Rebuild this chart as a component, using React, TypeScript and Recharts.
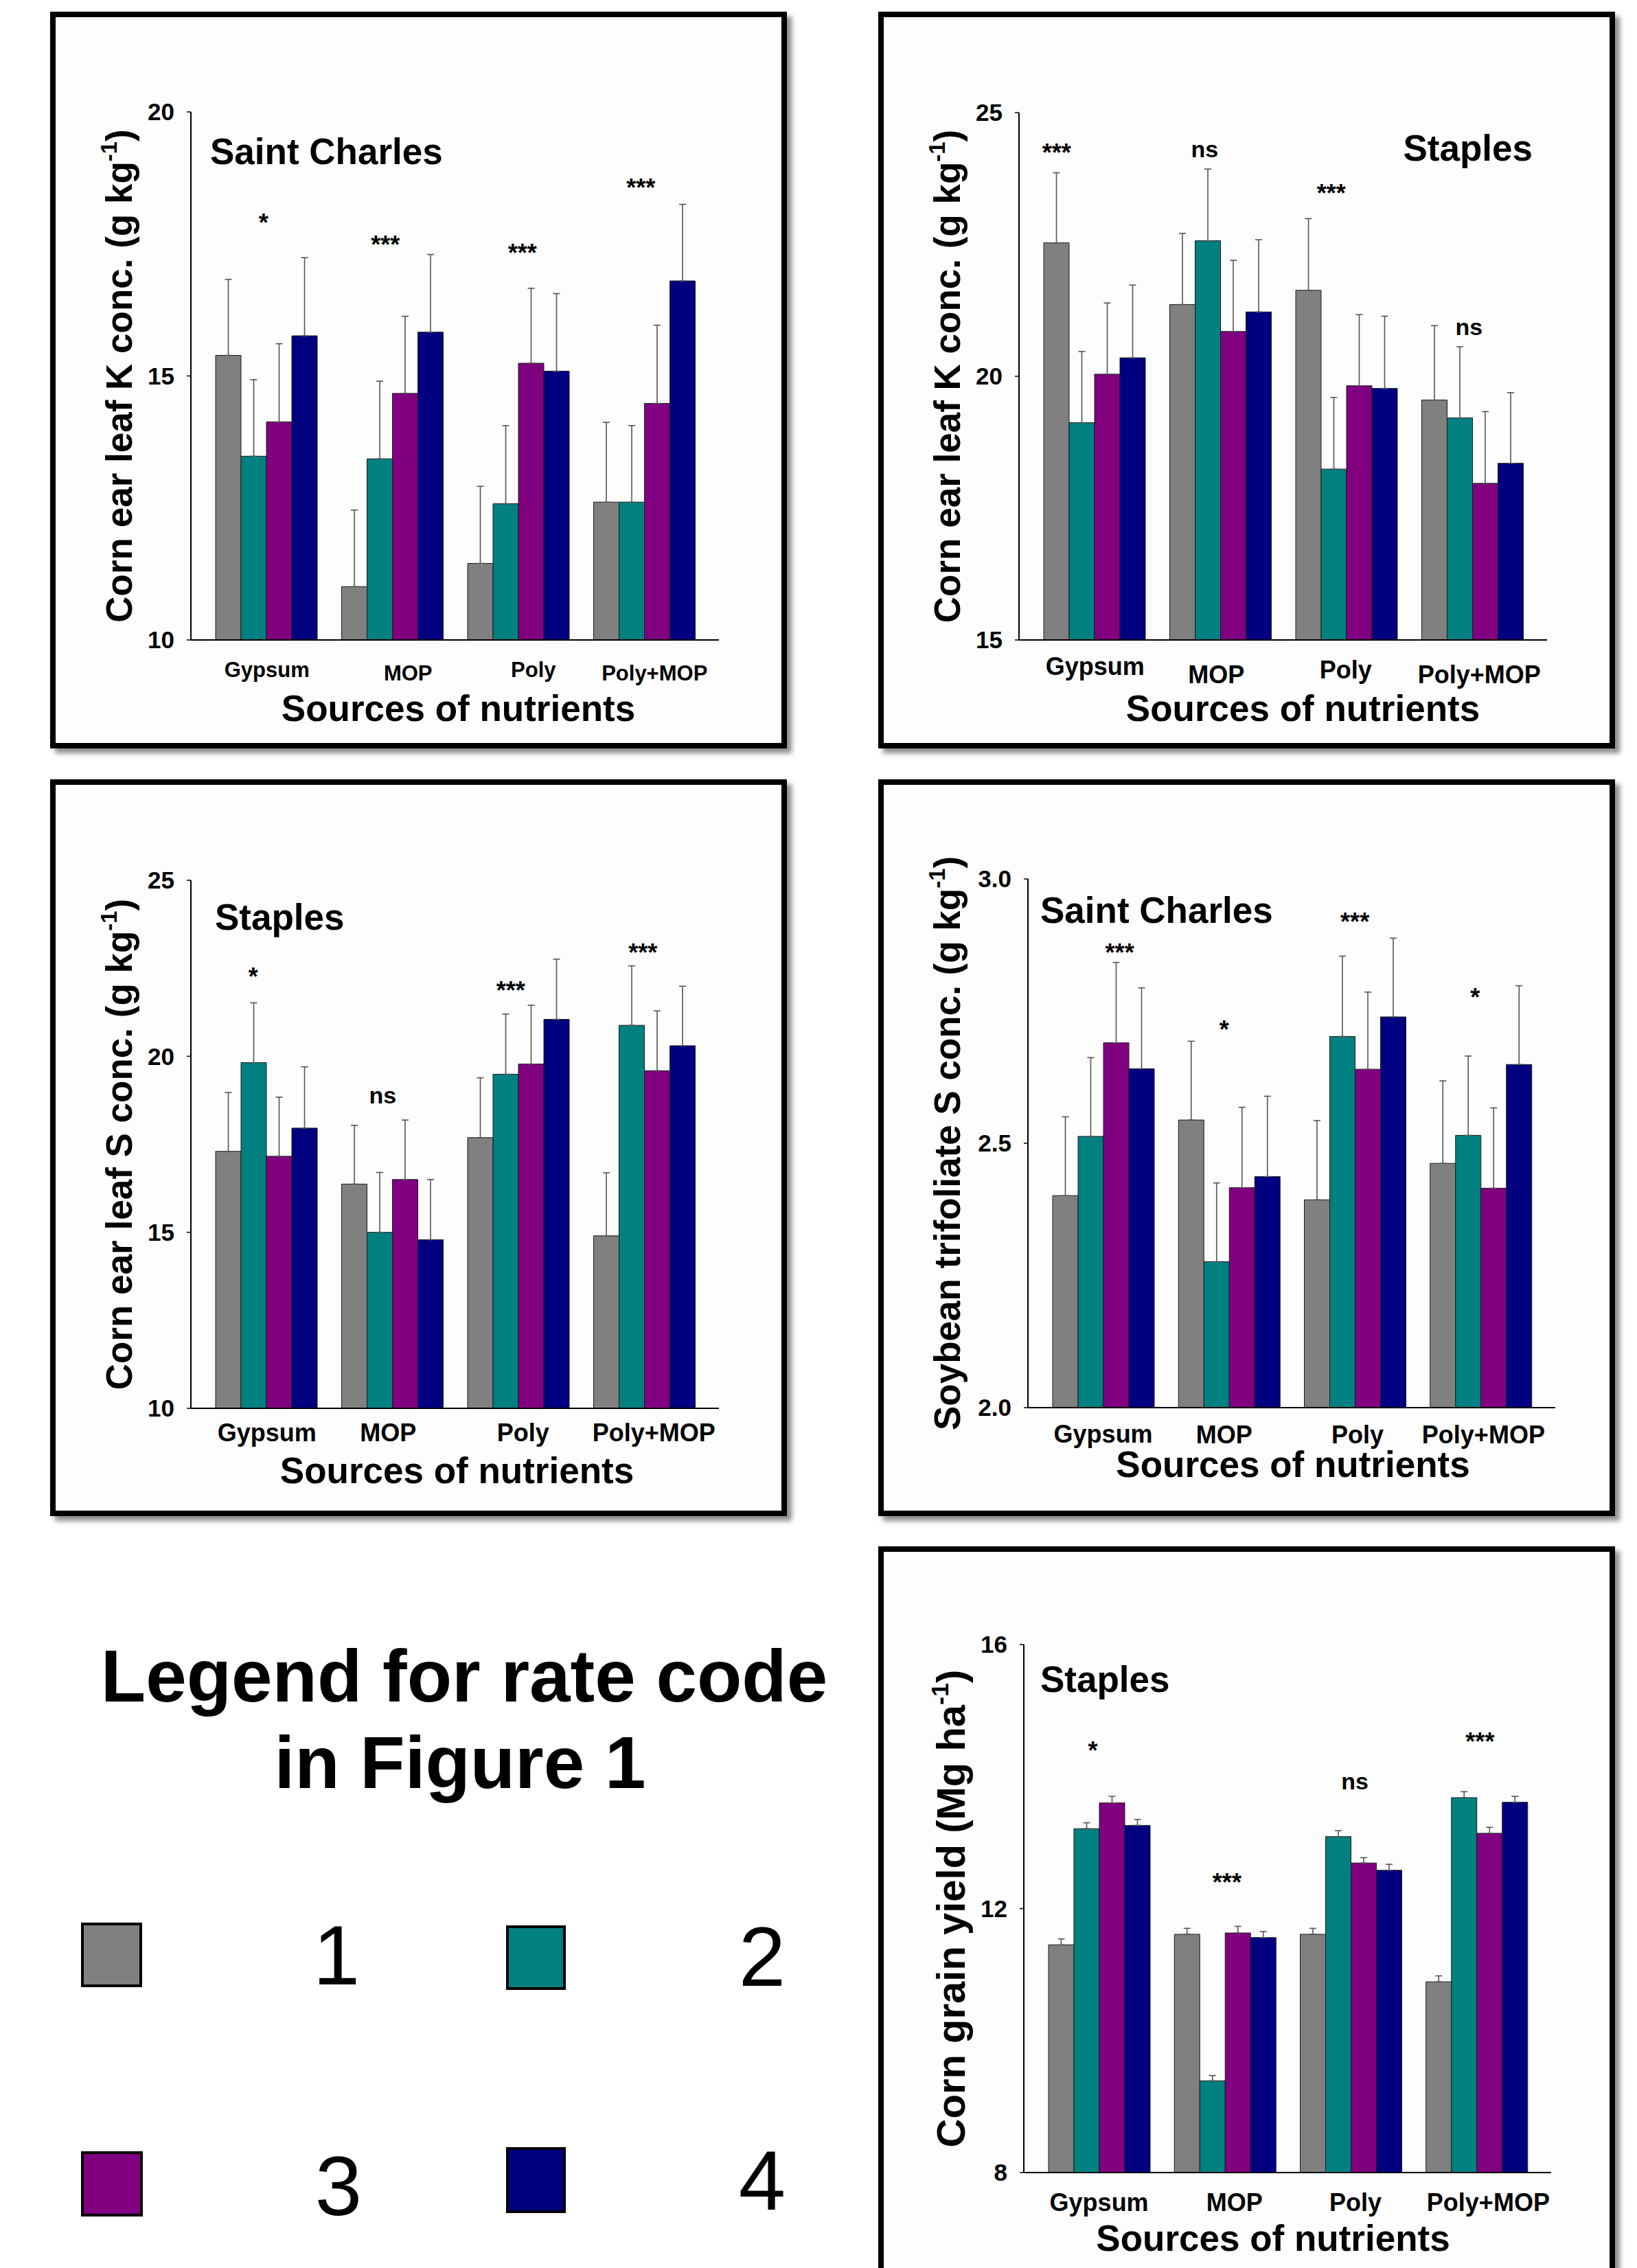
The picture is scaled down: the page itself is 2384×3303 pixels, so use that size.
import React from 'react';
import { BarChart, Bar, XAxis, YAxis, ErrorBar, ReferenceDot } from 'recharts';

const FONT = '"Liberation Sans", Arial, Helvetica, sans-serif';

// ---------- shared categories / series ----------
const sources = ['Gypsum', 'MOP', 'Poly', 'Poly+MOP'];
const rateCodes = ['1', '2', '3', '4'];
const rateColors = ['#808080', '#008080', '#800080', '#000080'];

// ---------- Panel A: Saint Charles, corn ear leaf K ----------
const kStCharlesRate1 = [15.39, 11.01, 11.45, 12.61];
const kStCharlesRate2 = [13.48, 13.43, 12.58, 12.61];
const kStCharlesRate3 = [14.13, 14.67, 15.24, 14.48];
const kStCharlesRate4 = [15.76, 15.83, 15.09, 16.8];
const kStCharlesErr1 = [1.44, 1.45, 1.46, 1.51];
const kStCharlesErr2 = [1.45, 1.47, 1.48, 1.45];
const kStCharlesErr3 = [1.48, 1.46, 1.42, 1.48];
const kStCharlesErr4 = [1.48, 1.47, 1.47, 1.45];
const kStCharlesSig = ['*', '***', '***', '***'];
const kStCharlesSigY = [18.0, 17.59, 17.43, 18.67];
const kStCharlesTicks = [10, 15, 20];

// ---------- Panel B: Staples, corn ear leaf K ----------
const kStaplesRate1 = [22.53, 21.36, 21.63, 19.55];
const kStaplesRate2 = [19.12, 22.57, 18.24, 19.21];
const kStaplesRate3 = [20.04, 20.85, 19.82, 17.97];
const kStaplesRate4 = [20.35, 21.22, 19.77, 18.35];
const kStaplesErr1 = [1.33, 1.35, 1.36, 1.41];
const kStaplesErr2 = [1.35, 1.36, 1.36, 1.35];
const kStaplesErr3 = [1.35, 1.35, 1.35, 1.36];
const kStaplesErr4 = [1.38, 1.37, 1.37, 1.34];
const kStaplesSig = ['***', 'ns', '***', 'ns'];
const kStaplesSigY = [24.34, 24.27, 23.58, 20.89];
const kStaplesTicks = [15, 20, 25];

// ---------- Panel C: Staples, corn ear leaf S ----------
const sStaplesRate1 = [17.3, 16.37, 17.69, 14.9];
const sStaplesRate2 = [19.82, 15.0, 19.49, 20.88];
const sStaplesRate3 = [17.16, 16.5, 19.78, 19.59];
const sStaplesRate4 = [17.96, 14.79, 21.05, 20.3];
const sStaplesErr1 = [1.67, 1.67, 1.7, 1.79];
const sStaplesErr2 = [1.7, 1.7, 1.71, 1.69];
const sStaplesErr3 = [1.68, 1.69, 1.67, 1.7];
const sStaplesErr4 = [1.74, 1.71, 1.71, 1.69];
const sStaplesSig = ['*', 'ns', '***', '***'];
const sStaplesSigY = [22.41, 18.83, 22.02, 23.1];
const sStaplesTicks = [10, 15, 20, 25];

// ---------- Panel D: Saint Charles, soybean trifoliate S ----------
const soyRate1 = [2.401, 2.544, 2.393, 2.462];
const soyRate2 = [2.513, 2.276, 2.702, 2.515];
const soyRate3 = [2.69, 2.416, 2.64, 2.415];
const soyRate4 = [2.641, 2.437, 2.739, 2.649];
const soyErr1 = [0.149, 0.149, 0.15, 0.156];
const soyErr2 = [0.149, 0.149, 0.152, 0.15];
const soyErr3 = [0.152, 0.152, 0.146, 0.152];
const soyErr4 = [0.153, 0.152, 0.149, 0.149];
const soySig = ['***', '*', '***', '*'];
const soySigY = [2.871, 2.726, 2.929, 2.786];
const soyTicks = [2.0, 2.5, 3.0];

// ---------- Panel E: Staples, corn grain yield ----------
const yieldRate1 = [11.45, 11.61, 11.61, 10.89];
const yieldRate2 = [13.21, 9.39, 13.09, 13.68];
const yieldRate3 = [13.6, 11.63, 12.69, 13.14];
const yieldRate4 = [13.26, 11.56, 12.58, 13.61];
const yieldErr1 = [0.09, 0.09, 0.09, 0.09];
const yieldErr2 = [0.09, 0.08, 0.09, 0.09];
const yieldErr3 = [0.1, 0.1, 0.08, 0.09];
const yieldErr4 = [0.09, 0.09, 0.09, 0.09];
const yieldSig = ['*', '***', 'ns', '***'];
const yieldSigY = [14.48, 12.48, 13.9, 14.61];
const yieldTicks = [8, 12, 16];

function buildRows(vals: number[][], errs: number[][]) {
  return sources.map((s, i) => {
    const row: any = { source: s };
    vals.forEach((v, k) => {
      row[`r${k + 1}`] = v[i];
      row[`e${k + 1}`] = [0, errs[k][i]];
    });
    return row;
  });
}

const INNER = 1057;
const FRAME = 1073;
const BORDER = 8;
const Y_AXIS_W = 80;
const X_AXIS_H = 40;

type PanelCfg = {
  frameLeft: number;
  frameTop: number;
  plotLeft: number;
  plotTop: number;
  plotW: number;
  plotH: number;
  rows: any[];
  domain: [number, number];
  ticks: number[];
  tickDecimals: number;
  sig: string[];
  sigY: number[];
  sigDx: number[];
  xTickFont: number;
  xTickDx: number[];
  xTickDy: number[];
  title: string;
  titleAnchor: 'start' | 'end';
  titleDx: number;
  titleDy: number;
  yTitlePre: string;
  yTitleSup: string;
  yTitleFont: number;
  yTitleDx: number;
  xTitleDx: number;
  xTitleDy: number;
};

const panels: PanelCfg[] = [
  {
    frameLeft: 73, frameTop: 17, plotLeft: 197, plotTop: 138, plotW: 769, plotH: 769,
    rows: buildRows(
      [kStCharlesRate1, kStCharlesRate2, kStCharlesRate3, kStCharlesRate4],
      [kStCharlesErr1, kStCharlesErr2, kStCharlesErr3, kStCharlesErr4]
    ),
    domain: [10, 20], ticks: kStCharlesTicks, tickDecimals: 0,
    sig: kStCharlesSig, sigY: kStCharlesSigY, sigDx: [-4, -10, 6, -5],
    xTickFont: 31, xTickDx: [1, 23, 22, 15], xTickDy: [54, 59, 54, 59],
    title: 'Saint Charles', titleAnchor: 'start', titleDx: 28, titleDy: 76,
    yTitlePre: 'Corn ear leaf K conc. (g kg', yTitleSup: '-1', yTitleFont: 53, yTitleDx: -86,
    xTitleDx: 5, xTitleDy: 118,
  },
  {
    frameLeft: 1279, frameTop: 17, plotLeft: 197, plotTop: 139, plotW: 769, plotH: 768,
    rows: buildRows(
      [kStaplesRate1, kStaplesRate2, kStaplesRate3, kStaplesRate4],
      [kStaplesErr1, kStaplesErr2, kStaplesErr3, kStaplesErr4]
    ),
    domain: [15, 25], ticks: kStaplesTicks, tickDecimals: 0,
    sig: kStaplesSig, sigY: kStaplesSigY, sigDx: [-55, -23, -22, -5],
    xTickFont: 36, xTickDx: [1, -6, -1, 10], xTickDy: [51, 63, 56, 63],
    title: 'Staples', titleAnchor: 'end', titleDx: -21, titleDy: 70,
    yTitlePre: 'Corn ear leaf K conc. (g kg', yTitleSup: '-1', yTitleFont: 53, yTitleDx: -86,
    xTitleDx: 29, xTitleDy: 118,
  },
  {
    frameLeft: 73, frameTop: 1135, plotLeft: 197, plotTop: 139, plotW: 769, plotH: 769,
    rows: buildRows(
      [sStaplesRate1, sStaplesRate2, sStaplesRate3, sStaplesRate4],
      [sStaplesErr1, sStaplesErr2, sStaplesErr3, sStaplesErr4]
    ),
    domain: [10, 25], ticks: sStaplesTicks, tickDecimals: 0,
    sig: sStaplesSig, sigY: sStaplesSigY, sigDx: [-19, -14, -11, -2],
    xTickFont: 36, xTickDx: [1, -6, 7, 14], xTickDy: [48, 48, 48, 48],
    title: 'Staples', titleAnchor: 'start', titleDx: 35, titleDy: 72,
    yTitlePre: 'Corn ear leaf S conc. (g kg', yTitleSup: '-1', yTitleFont: 53, yTitleDx: -86,
    xTitleDx: 3, xTitleDy: 109,
  },
  {
    frameLeft: 1279, frameTop: 1135, plotLeft: 210, plotTop: 137, plotW: 768, plotH: 770,
    rows: buildRows(
      [soyRate1, soyRate2, soyRate3, soyRate4],
      [soyErr1, soyErr2, soyErr3, soyErr4]
    ),
    domain: [2, 3], ticks: soyTicks, tickDecimals: 1,
    sig: soySig, sigY: soySigY, sigDx: [24, -7, 0, -8],
    xTickFont: 36, xTickDx: [0, -7, 4, 4], xTickDy: [51, 52, 52, 52],
    title: 'Saint Charles', titleAnchor: 'start', titleDx: 18, titleDy: 64,
    yTitlePre: 'Soybean trifoliate S conc. (g kg', yTitleSup: '-1', yTitleFont: 53, yTitleDx: -99,
    xTitleDx: 2, xTitleDy: 101,
  },
  {
    frameLeft: 1279, frameTop: 2252, plotLeft: 204, plotTop: 135, plotW: 768, plotH: 769,
    rows: buildRows(
      [yieldRate1, yieldRate2, yieldRate3, yieldRate4],
      [yieldErr1, yieldErr2, yieldErr3, yieldErr4]
    ),
    domain: [8, 16], ticks: yieldTicks, tickDecimals: 0,
    sig: yieldSig, sigY: yieldSigY, sigDx: [-9, 3, 6, 5],
    xTickFont: 36, xTickDx: [0, 14, 7, 17], xTickDy: [56, 56, 56, 56],
    title: 'Staples', titleAnchor: 'start', titleDx: 24, titleDy: 69,
    yTitlePre: 'Corn grain yield (Mg ha', yTitleSup: '-1', yTitleFont: 58, yTitleDx: -86,
    xTitleDx: -21, xTitleDy: 114,
  },
];

function SigMark({ cx, cy, text, dx }: { cx: number; cy: number; text: string; dx: number }) {
  const isStar = text.indexOf('*') >= 0;
  const fs = isStar ? 36 : 34;
  const off = isStar ? 0.57 * fs : 0.26 * fs;
  return (
    <text
      x={cx + dx}
      y={cy + off}
      textAnchor="middle"
      fontFamily={FONT}
      fontWeight={700}
      fontSize={fs}
      fill="#000"
    >
      {text}
    </text>
  );
}

function Panel({ p }: { p: PanelCfg }) {
  const margin = {
    top: p.plotTop,
    left: p.plotLeft - Y_AXIS_W,
    right: INNER - p.plotLeft - p.plotW,
    bottom: INNER - p.plotTop - p.plotH - X_AXIS_H,
  };
  const plotBottom = p.plotTop + p.plotH;
  const plotCx = p.plotLeft + p.plotW / 2;
  const plotCy = p.plotTop + p.plotH / 2;

  const XTick = (props: any) => {
    const idx = props.index ?? props.payload?.index ?? 0;
    return (
      <text
        x={props.x + p.xTickDx[idx]}
        y={plotBottom + p.xTickDy[idx]}
        textAnchor="middle"
        fontFamily={FONT}
        fontWeight={700}
        fontSize={p.xTickFont}
        fill="#000"
      >
        {props.payload.value}
      </text>
    );
  };

  const YLabel = () => {
    const bx = p.plotLeft + p.yTitleDx;
    const fs = p.yTitleFont;
    const titleX = p.titleAnchor === 'start' ? p.plotLeft + p.titleDx : p.plotLeft + p.plotW + p.titleDx;
    return (
      <g>
        <text
          x={bx}
          y={plotCy}
          transform={`rotate(-90 ${bx} ${plotCy})`}
          textAnchor="middle"
          fontFamily={FONT}
          fontWeight={700}
          fontSize={fs}
          fill="#000"
        >
          {p.yTitlePre}
          <tspan fontSize={fs * 0.62} dy={-fs * 0.42}>{p.yTitleSup}</tspan>
          <tspan dy={fs * 0.42}>)</tspan>
        </text>
        <text
          x={titleX}
          y={p.plotTop + p.titleDy}
          textAnchor={p.titleAnchor}
          fontFamily={FONT}
          fontWeight={700}
          fontSize={53}
          fill="#000"
        >
          {p.title}
        </text>
      </g>
    );
  };

  const XLabel = () => (
    <text
      x={plotCx + p.xTitleDx}
      y={plotBottom + p.xTitleDy}
      textAnchor="middle"
      fontFamily={FONT}
      fontWeight={700}
      fontSize={53}
      fill="#000"
    >
      Sources of nutrients
    </text>
  );

  return (
    <div
      style={{
        position: 'absolute',
        left: p.frameLeft,
        top: p.frameTop,
        width: FRAME,
        height: FRAME,
        boxSizing: 'border-box',
        border: `${BORDER}px solid #000`,
        boxShadow: '7px 7px 7px rgba(0,0,0,0.45)',
        background: '#fdfdfd',
      }}
    >
      <BarChart
        width={INNER}
        height={INNER}
        data={p.rows}
        margin={margin}
        barGap={0}
        barCategoryGap={18}
      >
        <XAxis
          dataKey="source"
          type="category"
          interval={0}
          padding={{ left: 18, right: 17 }}
          height={X_AXIS_H}
          tickLine={false}
          axisLine={{ stroke: '#000', strokeWidth: 2 }}
          tick={<XTick />}
          label={{ content: <XLabel /> } as any}
        />
        <XAxis
          xAxisId="top"
          orientation="top"
          dataKey="source"
          type="category"
          height={0}
          tick={false}
          tickLine={false}
          axisLine={{ stroke: '#000', strokeWidth: 2 }}
        />
        <YAxis
          type="number"
          domain={p.domain}
          ticks={p.ticks}
          allowDataOverflow
          width={Y_AXIS_W}
          tickSize={6}
          tickMargin={18}
          tickLine={{ stroke: '#000', strokeWidth: 1.5 }}
          axisLine={{ stroke: '#000', strokeWidth: 2 }}
          tick={{ fill: '#000', fontSize: 35, fontWeight: 700, fontFamily: FONT }}
          tickFormatter={(v: number) => v.toFixed(p.tickDecimals)}
          label={{ content: <YLabel /> } as any}
        />
        <YAxis
          yAxisId="right"
          orientation="right"
          type="number"
          domain={[0, 1]}
          width={0}
          tick={false}
          tickLine={false}
          axisLine={{ stroke: '#000', strokeWidth: 2 }}
        />
        {rateCodes.map((rc, k) => (
          <Bar
            key={rc}
            name={rc}
            dataKey={`r${k + 1}`}
            fill={rateColors[k]}
            stroke="#1a1a1a"
            strokeWidth={1}
            isAnimationActive={false}
          >
            <ErrorBar
              dataKey={`e${k + 1}`}
              direction="y"
              width={5}
              stroke="#555"
              strokeWidth={1.6}
              isAnimationActive={false}
            />
          </Bar>
        ))}
        {p.sig.map((s, i) => (
          <ReferenceDot
            key={`sig-${i}`}
            x={sources[i]}
            y={p.sigY[i]}
            r={0}
            ifOverflow="visible"
            shape={(props: any) => <SigMark cx={props.cx} cy={props.cy} text={s} dx={p.sigDx[i]} />}
          />
        ))}
      </BarChart>
    </div>
  );
}

// ---------- legend box (rate codes) ----------
const legendSlots = [
  { sx: 120, sy: 502, w: 85, h: 90, tx: 490, ty: 590 },
  { sx: 739, sy: 506, w: 83, h: 90, tx: 1110, ty: 592 },
  { sx: 120, sy: 835, w: 86, h: 91, tx: 493, ty: 926 },
  { sx: 739, sy: 829, w: 83, h: 92, tx: 1110, ty: 918 },
];

function RateLegend() {
  return (
    <svg
      width={1250}
      height={1003}
      style={{ position: 'absolute', left: 0, top: 2300 }}
    >
      <text x={676} y={178} textAnchor="middle" fontFamily={FONT} fontWeight={700} fontSize={107} fill="#000">
        Legend for rate code
      </text>
      <text x={670} y={304} textAnchor="middle" fontFamily={FONT} fontWeight={700} fontSize={107} fill="#000">
        in Figure 1
      </text>
      {rateCodes.map((rc, k) => {
        const s = legendSlots[k];
        return (
          <g key={rc}>
            <rect x={s.sx} y={s.sy} width={s.w} height={s.h} fill={rateColors[k]} stroke="#000" strokeWidth={4} />
            <text x={s.tx} y={s.ty} textAnchor="middle" fontFamily={FONT} fontSize={123} fill="#000">
              {rc}
            </text>
          </g>
        );
      })}
    </svg>
  );
}

export default function App() {
  return (
    <div
      style={{
        position: 'absolute',
        left: 0,
        top: 0,
        width: 2384,
        height: 3303,
        overflow: 'hidden',
        background: '#fff',
      }}
    >
      {panels.map((p, i) => (
        <Panel key={i} p={p} />
      ))}
      <RateLegend />
    </div>
  );
}
